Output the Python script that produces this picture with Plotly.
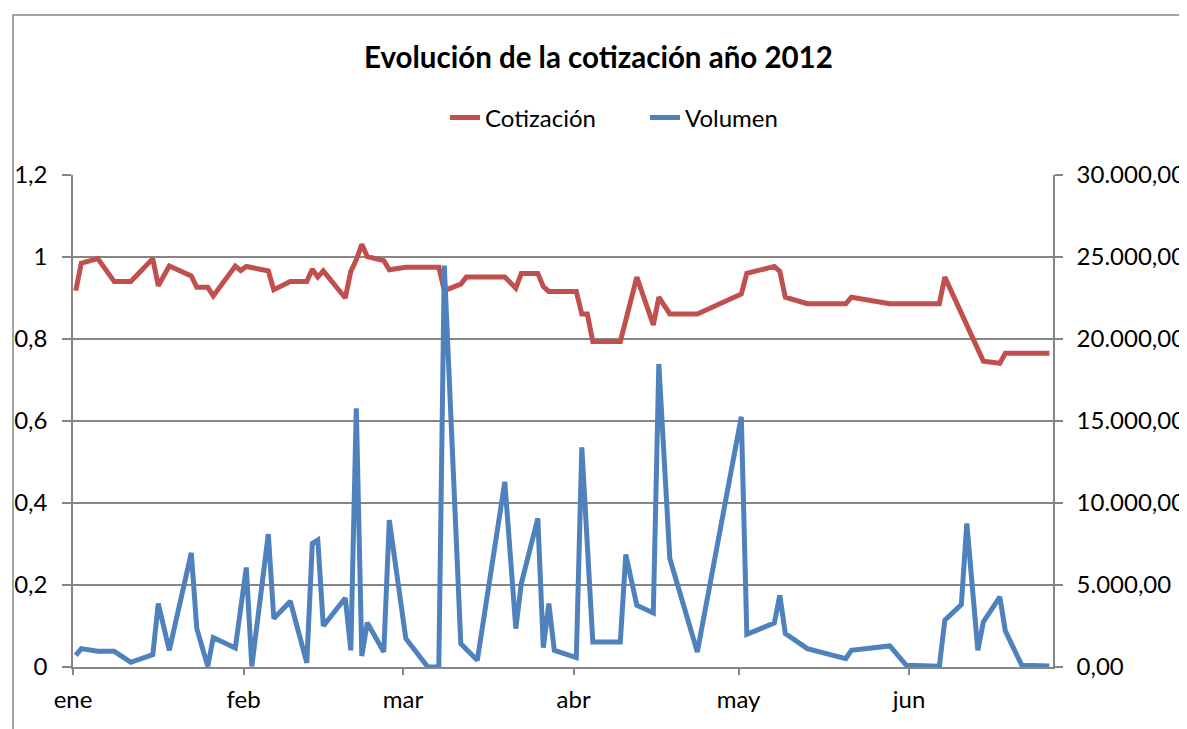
import plotly.graph_objects as go

fechas = ["2012-01-02","2012-01-03","2012-01-06","2012-01-09","2012-01-12","2012-01-16","2012-01-17",
          "2012-01-19","2012-01-23","2012-01-24","2012-01-26","2012-01-27","2012-01-31","2012-02-01",
          "2012-02-02","2012-02-03","2012-02-06","2012-02-07","2012-02-10","2012-02-13","2012-02-14",
          "2012-02-15","2012-02-16","2012-02-20","2012-02-21","2012-02-22","2012-02-23","2012-02-24",
          "2012-02-27","2012-02-28","2012-03-02","2012-03-06","2012-03-08","2012-03-09","2012-03-12",
          "2012-03-13","2012-03-15","2012-03-20","2012-03-22","2012-03-23","2012-03-26","2012-03-27",
          "2012-03-28","2012-03-29","2012-04-02","2012-04-03","2012-04-04","2012-04-05","2012-04-10",
          "2012-04-11","2012-04-13","2012-04-16","2012-04-17","2012-04-19","2012-04-24","2012-05-02",
          "2012-05-03","2012-05-08","2012-05-09","2012-05-10","2012-05-14","2012-05-21","2012-05-22",
          "2012-05-29","2012-06-01","2012-06-07","2012-06-08","2012-06-11","2012-06-12","2012-06-14",
          "2012-06-15","2012-06-18","2012-06-19","2012-06-22","2012-06-27"]

cotizacion = [0.918, 0.985, 0.996, 0.940, 0.940, 0.996, 0.930,
              0.978, 0.954, 0.926, 0.926, 0.905, 0.978, 0.967,
              0.977, 0.975, 0.966, 0.920, 0.940, 0.940, 0.970,
              0.951, 0.966, 0.900, 0.965, 0.993, 1.031, 1.001,
              0.991, 0.969, 0.975, 0.975, 0.975, 0.918, 0.934,
              0.951, 0.951, 0.951, 0.924, 0.960, 0.960, 0.928,
              0.916, 0.916, 0.916, 0.861, 0.861, 0.794, 0.794,
              0.846, 0.951, 0.834, 0.902, 0.861, 0.861, 0.910,
              0.960, 0.977, 0.965, 0.902, 0.886, 0.886, 0.902,
              0.886, 0.886, 0.886, 0.951, 0.861, 0.838, 0.777,
              0.746, 0.741, 0.765, 0.765, 0.765]

volumen = [712, 1119, 956, 956, 285, 753, 3866,
           1017, 6960, 2340, 40, 1795, 1160, 3800,
           6068, 40, 8100, 2953, 4010, 246, 7530,
           7735, 2503, 4212, 1017, 15771, 672, 2707,
           916, 8956, 1734, 0, 0, 24480, 1428,
           1080, 409, 11294, 2340, 5087, 9056, 1180,
           3866, 1017, 570, 13390, 7450, 1526, 1526,
           6858, 3765, 3297, 18478, 6614, 916, 15263,
           1994, 2686, 4375, 2035, 1119, 509, 1017,
           1282, 102, 41, 2849, 3805, 8750, 1017,
           2747, 4274, 2198, 102, 61]

meses_pos = ["2012-01-01 12:00", "2012-02-01 12:00", "2012-03-01 12:00",
             "2012-04-01 12:00", "2012-05-01 12:00", "2012-06-01 12:00"]
meses_txt = ["ene", "feb", "mar", "abr", "may", "jun"]

titulo = "Evolución de la cotización año 2012"

FONT = "Lato"
GRIS = "#868686"

fig = go.Figure()
fig.add_trace(go.Scatter(x=fechas, y=cotizacion, name="Cotización", mode="lines",
                         line=dict(color="#C0504D", width=5), yaxis="y"))
fig.add_trace(go.Scatter(x=fechas, y=volumen, name="Volumen", mode="lines",
                         line=dict(color="#4F81BD", width=5), yaxis="y2"))

# the page adds an 8 px body margin, so the figure is 8 px smaller than the window
fig.update_layout(
    width=1179, height=721,
    margin=dict(l=65, r=134, t=167, b=62, autoexpand=False),
    paper_bgcolor="white", plot_bgcolor="white",
    separators=",.",
    font=dict(family=FONT, size=24, color="black"),
    title=dict(text="<b>" + titulo + "</b>", x=0.5008, xanchor="center",
               y=0.9307, yanchor="middle", font=dict(family=FONT, size=29.5, color="black")),
    legend=dict(orientation="h", x=0.3796, xanchor="left", y=1.116, yanchor="middle",
                font=dict(family=FONT, size=24), bgcolor="rgba(0,0,0,0)",
                entrywidth=155, entrywidthmode="pixels"),
    xaxis=dict(type="date", range=["2012-01-01 11:50", "2012-06-27 16:00"],
               tickmode="array", tickvals=meses_pos, ticktext=meses_txt,
               showgrid=False, showline=True, linecolor=GRIS, linewidth=1.5,
               ticks="outside", ticklen=6, tickcolor=GRIS, tickwidth=1.5,
               ticklabelstandoff=4, zeroline=False, automargin=False),
    yaxis=dict(range=[0, 1.2], dtick=0.2, tick0=0, showgrid=True, gridcolor=GRIS, gridwidth=1.5,
               showline=True, linecolor=GRIS, linewidth=1.5, zeroline=False,
               ticks="outside", ticklen=9, tickcolor=GRIS, tickwidth=1.5,
               ticklabelstandoff=10, automargin=False),
    yaxis2=dict(range=[0, 30000], dtick=5000, tick0=0, overlaying="y", side="right",
                tickformat=",.2f", showgrid=False, showline=True, linecolor=GRIS, linewidth=1.5,
                zeroline=False, ticks="outside", ticklen=8, tickcolor=GRIS, tickwidth=1.5,
                ticklabelstandoff=9, automargin=False),
    shapes=[dict(type="path", xref="paper", yref="paper",
                 path="M 1.2,1.325 L -0.0612,1.325 L -0.0612,-0.2",
                 line=dict(color=GRIS, width=1.5))],
)

fig.write_html("out.html")
